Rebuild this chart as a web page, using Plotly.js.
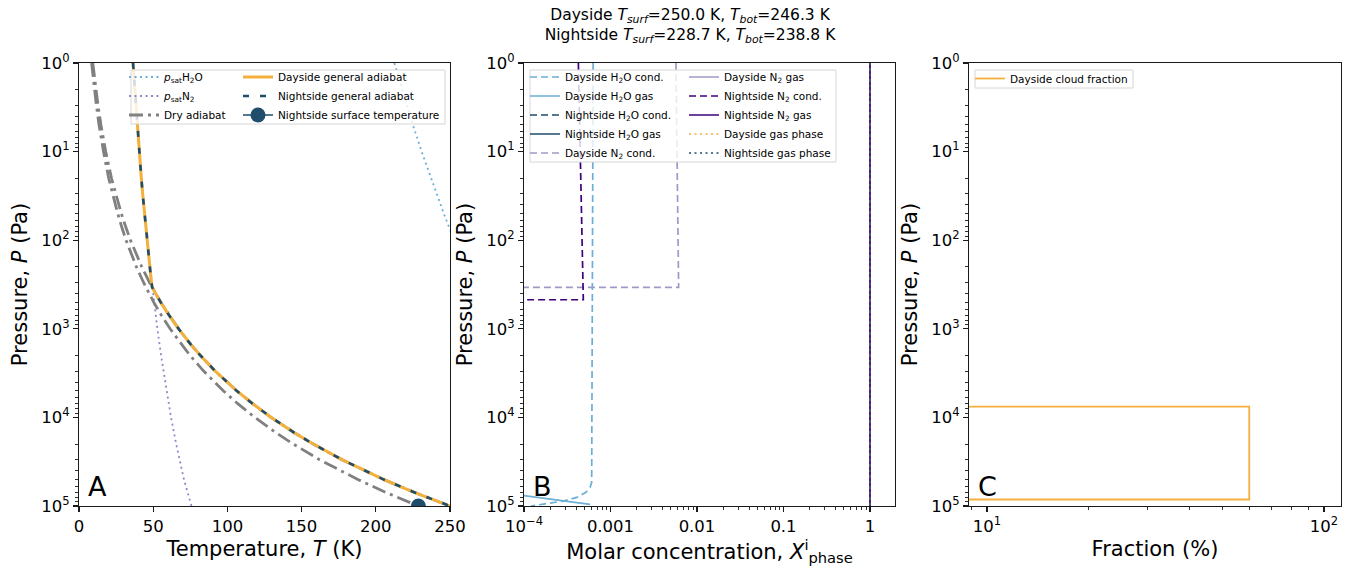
<!DOCTYPE html>
<html>
<head>
<meta charset="utf-8">
<script src="https://cdn.plot.ly/plotly-3.0.1.min.js"></script>
<style>
  html, body { margin: 0; padding: 0; background: #fff; }
  #chart { width: 1354px; height: 572px; }
</style>
</head>
<body>
<div id="chart"></div>
<script>
// ---------------- data ----------------
// Panel A: temperature profiles (K) on pressure levels (Pa)
const dryP = [1, 2, 3, 5, 7, 10, 20, 30, 50, 70, 100, 200, 300, 500, 700, 1000, 1500, 2000, 3000, 5000, 7000, 1e4, 1.5e4, 2e4, 3e4, 5e4, 7e4, 1e5];
const dryDayT = [9.3, 11.4, 12.8, 14.8, 16.3, 18.0, 21.9, 24.6, 28.5, 31.4, 34.7, 42.3, 47.5, 55.0, 60.6, 67.1, 75.3, 81.8, 91.8, 106.2, 117.0, 129.5, 145.4, 157.9, 177.2, 205.1, 225.8, 250.0];
const dryNightT = [8.5, 10.4, 11.7, 13.5, 14.9, 16.5, 20.0, 22.5, 26.1, 28.7, 31.7, 38.7, 43.5, 50.3, 55.4, 61.4, 68.9, 74.8, 84.0, 97.2, 107.0, 118.5, 133.0, 144.4, 162.1, 187.6, 206.6, 228.7];

const adiabatP = [1, 2, 3, 5, 7, 10, 20, 30, 50, 70, 100, 200, 300, 340, 500, 700, 1000, 1500, 2000, 3000, 5000, 7000, 1e4, 1.5e4, 2e4, 3e4, 5e4, 7e4, 1e5];
const dayAdiabatT = [36.4, 37.6, 38.3, 39.2, 39.8, 40.6, 42.0, 42.9, 44.1, 44.9, 45.8, 47.6, 48.8, 49.3, 55.0, 60.6, 67.1, 75.3, 81.8, 91.8, 106.2, 117.0, 129.5, 145.4, 157.9, 177.2, 205.1, 225.8, 250.0];
const nightAdiabatT = [36.4, 37.6, 38.3, 39.2, 39.8, 40.6, 42.0, 42.9, 44.1, 44.9, 45.8, 47.6, 48.8, 49.3, 55.0, 60.6, 67.1, 75.3, 81.8, 91.8, 106.2, 117.0, 129.5, 145.4, 157.9, 177.2, 205.1, 225.8, 250.0];

const psatH2OP = [1, 2, 5, 10, 20, 50, 100, 200];
const psatH2OT = [212.5, 217.7, 225.0, 230.9, 237.1, 245.8, 252.8, 260.3];
const psatN2P = [1, 10, 100, 340, 1000, 2000, 5000, 1e4, 2e4, 5e4, 1e5];
const psatN2T = [36.4, 40.6, 45.8, 49.3, 52.8, 55.3, 59.0, 62.0, 65.5, 70.7, 75.8];

const nightSurfT = [228.7];
const nightSurfP = [1e5];

// Panel B: molar concentrations
const dayH2OCondP = [1, 10, 100, 1000, 1e4, 5.4e4, 6.2e4, 7.0e4, 8.0e4, 8.8e4, 9.45e4, 1e5];
const dayH2OCondX = [6.3e-4, 6.25e-4, 6.2e-4, 6.15e-4, 6.1e-4, 6.06e-4, 5.8e-4, 5.2e-4, 4.07e-4, 2.83e-4, 1.75e-4, 1.2e-4];
const dayH2OGasP = [5e4, 6e4, 7e4, 8e4, 9e4, 9.6e4];
const dayH2OGasX = [3.9e-6, 1.58e-5, 5.1e-5, 1.43e-4, 3.54e-4, 5.8e-4];
const nightH2OP = [1, 1e5];
const nightH2OCondX = [0, 0];
const nightH2OGasX = [0, 0];
const dayN2CondP = [1, 10, 100, 340, 340, 1e5];
const dayN2CondX = [5.71e-3, 5.85e-3, 5.99e-3, 6.13e-3, 0, 0];
const nightN2CondP = [1, 10, 100, 470, 470, 1e5];
const nightN2CondX = [4.25e-4, 4.45e-4, 4.65e-4, 4.85e-4, 0, 0];
const gasP = [1, 1e5];
const dayN2GasX = [0.9994, 0.9994];
const nightN2GasX = [1.0, 1.0];
const dayGasPhaseX = [1.0, 1.0];
const nightGasPhaseX = [1.0, 1.0];

// Panel C: cloud fraction (%)
const cloudP = [1, 7550, 7550, 84500, 84500, 1e5];
const cloudFrac = [0, 0, 60, 60, 0, 0];

// Tick labels
const pTickVals = [1, 10, 100, 1000, 1e4, 1e5];
const pTickText = ['10<sup>0</sup>', '10<sup>1</sup>', '10<sup>2</sup>', '10<sup>3</sup>', '10<sup>4</sup>', '10<sup>5</sup>'];
const tTickVals = [0, 50, 100, 150, 200, 250];
const xTickVals = [1e-4, 1e-3, 1e-2, 0.1, 1];
const xTickText = ['10<sup>\u22124</sup>', '0.001', '0.01', '0.1', '1'];
const fTickVals = [10, 100];
const fTickText = ['10<sup>1</sup>', '10<sup>2</sup>'];

// ---------------- helpers ----------------
// non-positive values are clipped to a tiny positive number on log axes
const clipLog = arr => arr.map(v => (v > 0 ? v : 1e-30));
function minorLogTicks(lo, hi) {
  const out = [];
  for (let e = lo; e <= hi; e++) {
    for (let m = 2; m <= 9; m++) out.push(m * Math.pow(10, e));
  }
  return out;
}

const W = 1354, H = 572;
const M = { l: 79, r: 13, t: 63, b: 66 };
const plotW = W - M.l - M.r, plotH = H - M.t - M.b;
const fx = p => (p - M.l) / plotW;
const fy = p => (H - M.b - p) / plotH;

const C = {
  orange: '#f3b03c',
  night: '#1f4d6b',
  gray: '#808080',
  lblue: '#6baed6',
  lav: '#9e9ac8',
  purple: '#3f007d',
  psatN2: '#8f88c9',
  axis: '#1a1a1a'
};

// ---------------- traces ----------------
const traces = [];
// Panel A
traces.push({ x: psatH2OT, y: psatH2OP, xaxis: 'x', yaxis: 'y', mode: 'lines', legend: 'legend',
  name: '<i>p</i><sub>sat</sub>H<sub>2</sub>O', line: { color: C.lblue, width: 1.8, dash: '2px,3.5px' } });
traces.push({ x: psatN2T, y: psatN2P, xaxis: 'x', yaxis: 'y', mode: 'lines', legend: 'legend',
  name: '<i>p</i><sub>sat</sub>N<sub>2</sub>', line: { color: C.psatN2, width: 1.8, dash: '2px,3.5px' } });
traces.push({ x: dryDayT, y: dryP, xaxis: 'x', yaxis: 'y', mode: 'lines', legend: 'legend',
  name: 'Dry adiabat', line: { color: C.gray, width: 2.8, dash: '14px,5px,3px,5px' } });
traces.push({ x: dryNightT, y: dryP, xaxis: 'x', yaxis: 'y', mode: 'lines', legend: 'legend', showlegend: false,
  name: 'Dry adiabat (nightside)', line: { color: C.gray, width: 2.8, dash: '14px,5px,3px,5px' } });
traces.push({ x: dayAdiabatT, y: adiabatP, xaxis: 'x', yaxis: 'y', mode: 'lines', legend: 'legend2',
  name: 'Dayside general adiabat', line: { color: C.orange, width: 3 } });
traces.push({ x: nightAdiabatT, y: adiabatP, xaxis: 'x', yaxis: 'y', mode: 'lines', legend: 'legend2',
  name: 'Nightside general adiabat', line: { color: C.night, width: 2.6, dash: '6px,11px' } });
traces.push({ x: nightSurfT, y: nightSurfP, xaxis: 'x', yaxis: 'y', mode: 'lines+markers', legend: 'legend2',
  name: 'Nightside surface temperature', cliponaxis: true,
  line: { color: C.night, width: 1.5 }, marker: { color: C.night, size: 15 } });

// Panel B
const bw = 1.7, bdash = '7px,4px';
function bTrace(x, y, name, color, dash, legend) {
  return { x: clipLog(x), y: y, xaxis: 'x2', yaxis: 'y2', mode: 'lines', legend: legend, name: name,
    line: { color: color, width: bw, dash: dash } };
}
traces.push(bTrace(dayH2OCondX, dayH2OCondP, 'Dayside H<sub>2</sub>O cond.', C.lblue, bdash, 'legend3'));
traces.push(bTrace(dayH2OGasX, dayH2OGasP, 'Dayside H<sub>2</sub>O gas', C.lblue, 'solid', 'legend3'));
traces.push(bTrace(nightH2OCondX, nightH2OP, 'Nightside H<sub>2</sub>O cond.', C.night, bdash, 'legend3'));
traces.push(bTrace(nightH2OGasX, nightH2OP, 'Nightside H<sub>2</sub>O gas', C.night, 'solid', 'legend3'));
traces.push(bTrace(dayN2CondX, dayN2CondP, 'Dayside N<sub>2</sub> cond.', C.lav, bdash, 'legend3'));
traces.push(bTrace(dayN2GasX, gasP, 'Dayside N<sub>2</sub> gas', C.lav, 'solid', 'legend4'));
traces.push(bTrace(nightN2CondX, nightN2CondP, 'Nightside N<sub>2</sub> cond.', C.purple, bdash, 'legend4'));
traces.push(bTrace(nightN2GasX, gasP, 'Nightside N<sub>2</sub> gas', C.purple, 'solid', 'legend4'));
traces.push(bTrace(dayGasPhaseX, gasP, 'Dayside gas phase', C.orange, '2px,3.5px', 'legend4'));
traces.push(bTrace(nightGasPhaseX, gasP, 'Nightside gas phase', C.night, '2px,3.5px', 'legend4'));

// Panel C
traces.push({ x: clipLog(cloudFrac), y: cloudP, xaxis: 'x3', yaxis: 'y3', mode: 'lines', legend: 'legend5',
  name: 'Dayside cloud fraction', line: { color: C.orange, width: 1.8 } });

// ---------------- layout ----------------
const axisBase = {
  showline: true, mirror: true, linecolor: C.axis, linewidth: 1.1,
  ticks: 'outside', ticklen: 5, tickwidth: 1.1, tickcolor: C.axis,
  showgrid: false, zeroline: false,
  tickfont: { size: 16.5, color: '#000' }
};
const minorStyle = { ticks: 'outside', ticklen: 3, tickwidth: 0.9, tickcolor: C.axis, showgrid: false };

function pressureAxis(anchor) {
  return Object.assign({}, axisBase, {
    type: 'log', range: [5, 0], anchor: anchor, domain: [0, 1],
    tickmode: 'array', tickvals: pTickVals, ticktext: pTickText,
    minor: Object.assign({ tickmode: 'array', tickvals: minorLogTicks(0, 4) }, minorStyle),
    title: { text: 'Pressure, <i>P</i> (Pa)', font: { size: 21, color: '#000' }, standoff: 7 }
  });
}

const legendBase = { bgcolor: 'rgba(0,0,0,0)', borderwidth: 0, font: { size: 10.5, color: '#000' },
  itemwidth: 30, xanchor: 'left', yanchor: 'top', traceorder: 'normal' };

function legendBox(x0, y0, x1, y1) {
  return { type: 'rect', xref: 'paper', yref: 'paper', x0: fx(x0), x1: fx(x1), y0: fy(y1), y1: fy(y0),
    fillcolor: 'rgba(255,255,255,0.8)', line: { color: '#d6d6d6', width: 1 }, layer: 'above' };
}

function panelLabel(text, xaxis, yaxis) {
  return { text: text, xref: xaxis + ' domain', yref: yaxis + ' domain', x: 0.02, y: 0.045,
    xanchor: 'left', yanchor: 'middle', showarrow: false, font: { size: 27, color: '#000' } };
}

const layout = {
  width: W, height: H,
  margin: M,
  paper_bgcolor: '#fff', plot_bgcolor: '#fff',
  font: { family: 'DejaVu Sans, sans-serif', color: '#000' },
  title: {
    text: 'Dayside <i>T<sub>surf</sub></i>=250.0 K, <i>T<sub>bot</sub></i>=246.3 K<br>' +
          'Nightside <i>T<sub>surf</sub></i>=228.7 K, <i>T<sub>bot</sub></i>=238.8 K',
    x: 690 / W, xref: 'container', xanchor: 'center',
    y: 1 - 20 / H, yref: 'container', yanchor: 'top',
    font: { size: 15.5, color: '#000' }
  },
  xaxis: Object.assign({}, axisBase, {
    domain: [fx(79), fx(450)], anchor: 'y', range: [0, 250],
    tickmode: 'array', tickvals: tTickVals,
    title: { text: 'Temperature, <i>T</i> (K)', font: { size: 21, color: '#000' }, standoff: 6 }
  }),
  yaxis: pressureAxis('x'),
  xaxis2: Object.assign({}, axisBase, {
    domain: [fx(524), fx(895)], anchor: 'y2', type: 'log', range: [-4, 0.289],
    tickmode: 'array', tickvals: xTickVals, ticktext: xTickText,
    minor: Object.assign({ tickmode: 'array', tickvals: minorLogTicks(-4, 0) }, minorStyle),
    title: { text: 'Molar concentration, <i>X</i><sup>i</sup><sub>phase</sub>', font: { size: 21, color: '#000' }, standoff: 6 }
  }),
  yaxis2: pressureAxis('x2'),
  xaxis3: Object.assign({}, axisBase, {
    domain: [fx(969), fx(1341)], anchor: 'y3', type: 'log', range: [0.9466, 2.0504],
    tickmode: 'array', tickvals: fTickVals, ticktext: fTickText,
    minor: Object.assign({ tickmode: 'array', tickvals: minorLogTicks(0, 1) }, minorStyle),
    title: { text: 'Fraction (%)', font: { size: 21, color: '#000' }, standoff: 6 }
  }),
  yaxis3: pressureAxis('x3'),
  legend: Object.assign({}, legendBase, { x: fx(124), y: fy(62.5) }),
  legend2: Object.assign({}, legendBase, { x: fx(238), y: fy(62.5) }),
  legend3: Object.assign({}, legendBase, { x: fx(525), y: fy(62.5) }),
  legend4: Object.assign({}, legendBase, { x: fx(684), y: fy(62.5) }),
  legend5: Object.assign({}, legendBase, { x: fx(970), y: fy(64) }),
  shapes: [
    legendBox(131, 70, 445, 124),
    legendBox(530, 70, 836, 162),
    legendBox(975, 70, 1133, 88)
  ],
  annotations: [
    panelLabel('A', 'x', 'y'),
    panelLabel('B', 'x2', 'y2'),
    panelLabel('C', 'x3', 'y3')
  ],
  showlegend: true
};

Plotly.newPlot('chart', traces, layout, { displayModeBar: false, staticPlot: true });
</script>
</body>
</html>
